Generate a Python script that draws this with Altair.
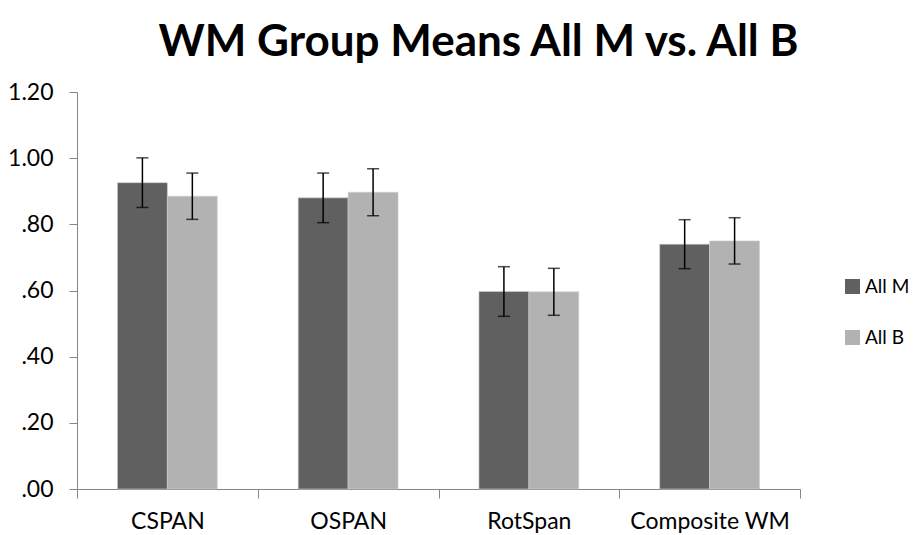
import altair as alt
import pandas as pd

categories = ["CSPAN", "OSPAN", "RotSpan", "Composite WM"]
groups = ["All M", "All B"]
mean_m = [0.926, 0.880, 0.597, 0.740]
mean_b = [0.885, 0.897, 0.596, 0.750]
err_m = [0.075, 0.075, 0.075, 0.074]
err_b = [0.070, 0.071, 0.071, 0.070]

rows = []
for i, c in enumerate(categories):
    rows.append({"cat": c, "grp": "All M", "val": mean_m[i], "lo": mean_m[i] - err_m[i], "hi": mean_m[i] + err_m[i]})
    rows.append({"cat": c, "grp": "All B", "val": mean_b[i], "lo": mean_b[i] - err_b[i], "hi": mean_b[i] + err_b[i]})
df = pd.DataFrame(rows)

FONT = "Lato"

x_enc = alt.X("cat:N", sort=categories, title=None,
              scale=alt.Scale(paddingInner=0, paddingOuter=0),
              axis=alt.Axis(labelAngle=0, tickSize=9, tickBand="extent", labelPadding=12))
xoff = alt.XOffset("grp:N", sort=groups, scale=alt.Scale(paddingOuter=0.81, paddingInner=0))
y_scale = alt.Scale(domain=[0, 1.2], nice=False)

bars = alt.Chart(df).mark_bar(stroke="#d0d0d0", strokeWidth=0.6).encode(
    x=x_enc,
    xOffset=xoff,
    y=alt.Y("val:Q", scale=y_scale, title=None,
            axis=alt.Axis(values=[0, 0.2, 0.4, 0.6, 0.8, 1.0, 1.2], grid=False,
                          labelExpr="datum.value < 1 ? substring(format(datum.value, '.2f'), 1) : format(datum.value, '.2f')",
                          tickSize=8, labelPadding=16)),
    color=alt.Color("grp:N", sort=groups, title=None,
                    scale=alt.Scale(domain=groups, range=["#606060", "#b2b2b2"]),
                    legend=alt.Legend(orient="none", legendX=766, legendY=185, symbolType="square",
                                      symbolSize=225, symbolStrokeWidth=0, rowPadding=31, labelOffset=3)),
)

rules = alt.Chart(df).mark_rule(color="#000000", strokeWidth=1.5).encode(
    x=alt.X("cat:N", sort=categories),
    xOffset=xoff,
    y=alt.Y("lo:Q", scale=y_scale),
    y2="hi:Q",
)

caps_hi = alt.Chart(df).mark_tick(color="#000000", thickness=1.5, size=12).encode(
    x=alt.X("cat:N", sort=categories),
    xOffset=xoff,
    y=alt.Y("hi:Q", scale=y_scale),
)
caps_lo = alt.Chart(df).mark_tick(color="#000000", thickness=1.5, size=12).encode(
    x=alt.X("cat:N", sort=categories),
    xOffset=xoff,
    y=alt.Y("lo:Q", scale=y_scale),
)

chart = alt.layer(bars, rules, caps_hi, caps_lo).properties(
    width=723, height=397,
    title=alt.TitleParams("WM Group Means All M vs. All B", anchor="middle", dx=40, offset=16),
    autosize=alt.AutoSizeParams(type="none"),
    padding={"left": 69, "top": 84, "right": 112, "bottom": 44},
).configure_view(
    stroke=None
).configure_axis(
    labelFont=FONT, labelFontSize=23, labelColor="#000000",
    domainColor="#868686", tickColor="#868686", labelFontWeight="normal",
).configure_legend(
    labelFont=FONT, labelFontSize=19, labelColor="#000000",
).configure_title(
    font=FONT, fontSize=44, fontWeight="bold", color="#000000",
)

chart.save("out.html", embed_options={"renderer": "svg", "actions": False})
